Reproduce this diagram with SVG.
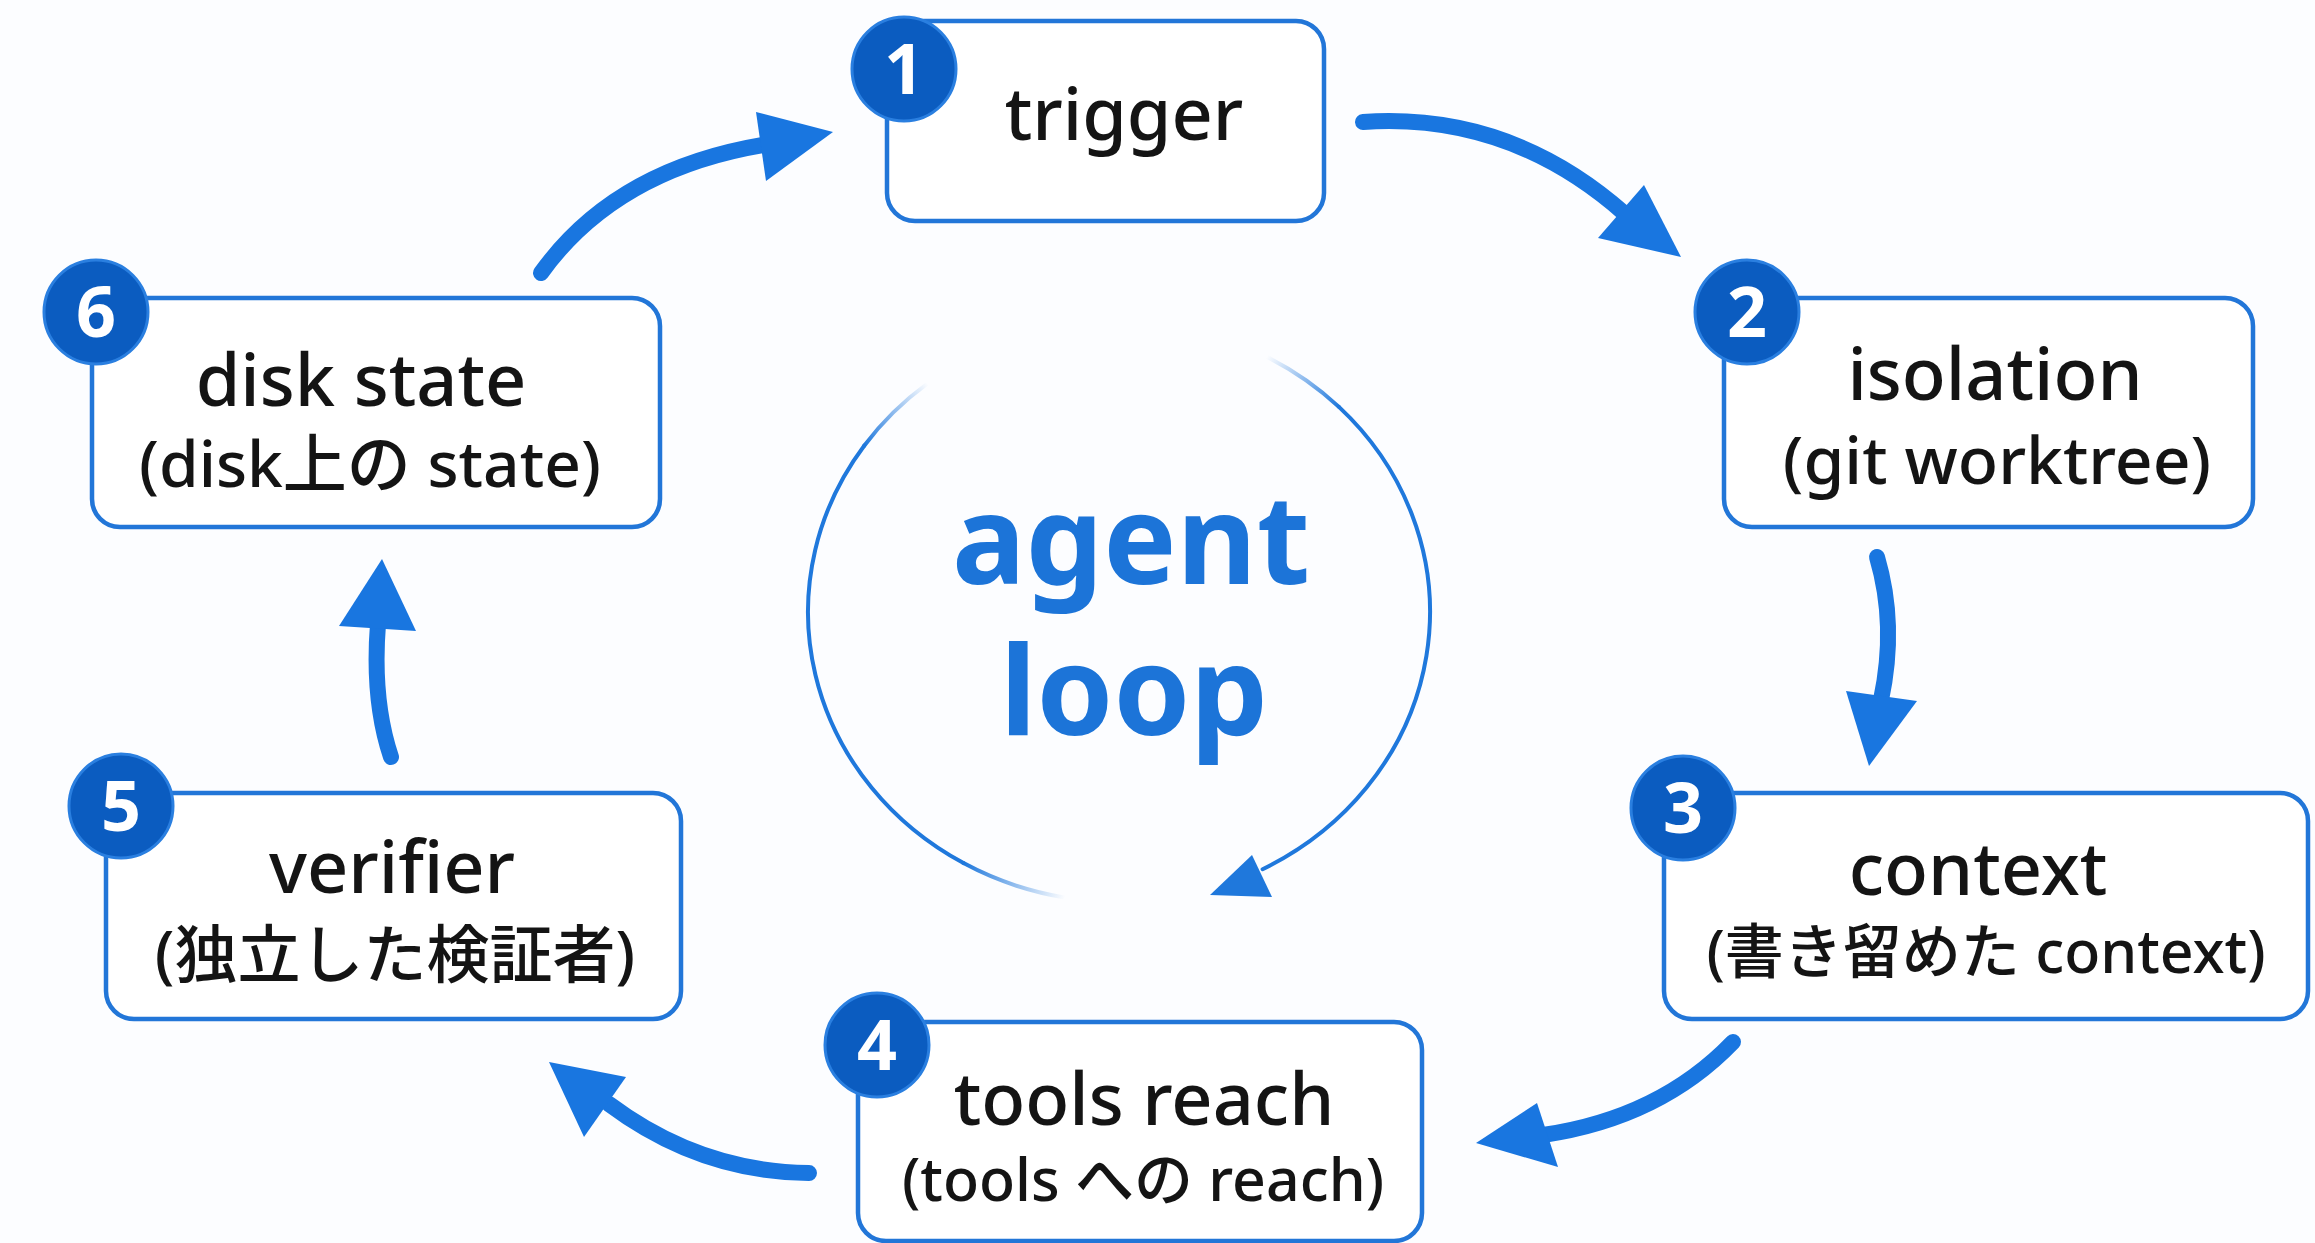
<svg xmlns="http://www.w3.org/2000/svg" width="2315" height="1243" viewBox="0 0 2315 1243">
<defs>
<style>
.box{fill:#ffffff;stroke:#2276d8;stroke-width:4.5}
.badge{fill:#0b5cc0;stroke:#2a7fe0;stroke-width:3}
.num{fill:#ffffff;font-family:'Noto Sans','Liberation Sans',sans-serif;font-weight:700;font-size:70px;text-anchor:middle}
.lbl{fill:#141414;font-family:'Noto Sans','Noto Sans CJK JP',sans-serif;font-weight:500;font-size:72px;text-anchor:middle}
.sub{fill:#141414;font-family:'Noto Sans','Noto Sans CJK JP',sans-serif;font-weight:500;text-anchor:middle}
.shaft{fill:none;stroke:#1976e0;stroke-width:16;stroke-linecap:round}
.head{fill:#1976e0}
.ring{fill:none;stroke-width:4;stroke-linecap:round}
.center{fill:#1c74d8;font-family:'Noto Sans','Liberation Sans',sans-serif;font-weight:700;font-size:123px;text-anchor:middle}
</style>
<linearGradient id="fadeLT" gradientUnits="userSpaceOnUse" x1="927.5" y1="383.5" x2="864.2" y2="445.7">
<stop offset="0" stop-color="#1f78dc" stop-opacity="0"/><stop offset="1" stop-color="#1f78dc" stop-opacity="1"/>
</linearGradient>
<linearGradient id="fadeLB" gradientUnits="userSpaceOnUse" x1="963.5" y1="863.1" x2="1065" y2="897.6">
<stop offset="0" stop-color="#1f78dc" stop-opacity="1"/><stop offset="1" stop-color="#1f78dc" stop-opacity="0"/>
</linearGradient>
<linearGradient id="fadeRT" gradientUnits="userSpaceOnUse" x1="1266.9" y1="356.9" x2="1338.9" y2="406.9">
<stop offset="0" stop-color="#1f78dc" stop-opacity="0"/><stop offset="1" stop-color="#1f78dc" stop-opacity="1"/>
</linearGradient>
</defs>
<rect width="2315" height="1243" fill="#fcfdff"/>

<g id="cycle">
<path class="ring" stroke="url(#fadeLT)" d="M927.5,383.5 A311,290 0 0 0 864.2,445.7"/>
<path class="ring" stroke="#1f78dc" d="M864.2,445.7 A311,290 0 0 0 963.5,863.1"/>
<path class="ring" stroke="url(#fadeLB)" d="M963.5,863.1 A311,290 0 0 0 1065,897.6"/>
<path class="ring" stroke="url(#fadeRT)" d="M1266.9,356.9 A311,290 0 0 1 1338.9,406.9"/>
<path class="ring" stroke="#1f78dc" d="M1338.9,406.9 A311,290 0 0 1 1262.6,869.2"/>
<polygon fill="#1f78dc" points="1210,895 1252,855 1272,897"/>
<text class="center" x="1131" y="584">agent</text>
<text class="center" x="1134" y="735">loop</text>
</g>

<g id="connectors">
<path class="shaft" d="M541,273 Q615,170 763,145"/>
<polygon class="head" points="833,132 756,112 766,181"/>
<path class="shaft" d="M1363,122 Q1510,112 1625,214"/>
<polygon class="head" points="1681,257 1598,238 1644,185"/>
<path class="shaft" d="M1877,557 Q1897,625 1881,700"/>
<polygon class="head" points="1869,766 1846,691 1917,701"/>
<path class="shaft" d="M1733,1042 Q1660,1118 1543,1135"/>
<polygon class="head" points="1476,1143 1537,1103 1558,1167"/>
<path class="shaft" d="M809,1173 Q700,1172 609,1104"/>
<polygon class="head" points="549,1062 626,1077 584,1137"/>
<path class="shaft" d="M391,757 Q372,700 378,624"/>
<polygon class="head" points="382,559 339,626 416,631"/>
</g>

<g id="node1">
<rect class="box" x="887" y="21" width="437" height="200" rx="28"/>
<circle class="badge" cx="904" cy="69" r="52"/>
<text class="num" x="904" y="94">1</text>
<text class="lbl" x="1124" y="140">trigger</text>
</g>

<g id="node2">
<rect class="box" x="1724" y="298" width="529" height="229" rx="28"/>
<circle class="badge" cx="1747" cy="312" r="52"/>
<text class="num" x="1747" y="337">2</text>
<text class="lbl" x="1995" y="400">isolation</text>
<text class="sub" x="1997" y="484" font-size="66">(git worktree)</text>
</g>

<g id="node3">
<rect class="box" x="1664" y="793" width="644" height="226" rx="28"/>
<circle class="badge" cx="1683" cy="808" r="52"/>
<text class="num" x="1683" y="833">3</text>
<text class="lbl" x="1978" y="895">context</text>
<text class="sub" x="1986" y="973" font-size="59">(書き留めた context)</text>
</g>

<g id="node4">
<rect class="box" x="858" y="1022" width="564" height="219" rx="28"/>
<circle class="badge" cx="877" cy="1045" r="52"/>
<text class="num" x="877" y="1070">4</text>
<text class="lbl" x="1144" y="1125">tools reach</text>
<text class="sub" x="1143" y="1201" font-size="59">(tools への reach)</text>
</g>

<g id="node5">
<rect class="box" x="106" y="793" width="575" height="226" rx="28"/>
<circle class="badge" cx="121" cy="806" r="52"/>
<text class="num" x="121" y="831">5</text>
<text class="lbl" x="392" y="893">verifier</text>
<text class="sub" x="395" y="977" font-size="63">(独立した検証者)</text>
</g>

<g id="node6">
<rect class="box" x="92" y="298" width="568" height="229" rx="28"/>
<circle class="badge" cx="96" cy="312" r="52"/>
<text class="num" x="96" y="337">6</text>
<text class="lbl" x="361" y="406">disk state</text>
<text class="sub" x="370" y="487" font-size="64">(disk上の state)</text>
</g>
</svg>
